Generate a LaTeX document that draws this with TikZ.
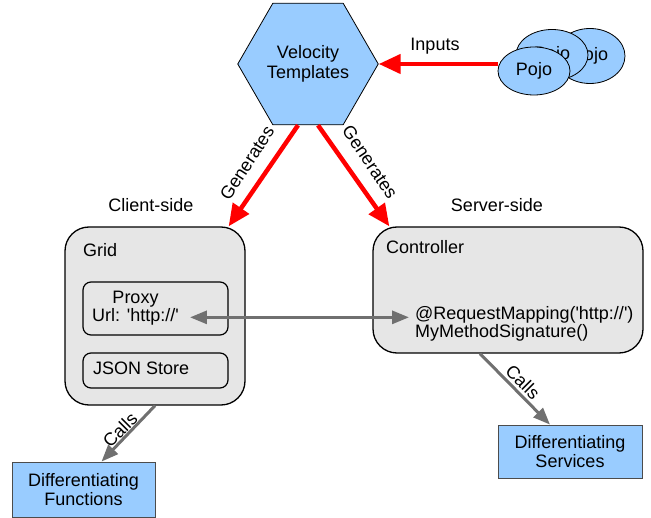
\documentclass[tikz,border=0pt]{standalone}
\usepackage{fontspec}
\setmainfont{Liberation Sans}
\usetikzlibrary{shapes.geometric,arrows.meta}
\definecolor{lblue}{RGB}{153,204,255}
\definecolor{lgray}{RGB}{230,230,230}
\definecolor{dgray}{RGB}{112,112,112}
\begin{document}
\begin{tikzpicture}[x=1pt,y=-1pt,
  txt/.style={font=\fontsize{18}{19.5}\selectfont, inner sep=2pt},
  bigbox/.style={draw=black, line width=1.3pt, fill=lgray, rounded corners=24pt, inner sep=0},
  smallbox/.style={draw=black, line width=1.2pt, fill=lgray, rounded corners=8pt, inner sep=0},
  bluebox/.style={draw=black!70, line width=0.8pt, fill=lblue, inner sep=0, txt, align=center},
  pojo/.style={ellipse, draw=black, line width=0.8pt, fill=lblue, inner sep=0, txt},
  redarrow/.style={draw=red, line width=4.5pt, -{Triangle[length=22pt,width=19pt]}},
  grayarrow/.style={draw=dgray, line width=3pt, -{Triangle[length=17pt,width=13pt]}},
  graydouble/.style={draw=dgray, line width=3pt, {Triangle[length=17pt,width=13pt]}-{Triangle[length=17pt,width=13pt]}}
]
\useasboundingbox (0,0) rectangle (651,518);

% hexagon
\node[regular polygon, regular polygon sides=6, minimum size=127pt, draw=black, line width=0.8pt,
      fill=lblue, inner sep=0, txt, align=center] (hex) at (308,64) {Velocity\\Templates};

% pojos
\node[pojo, minimum width=70pt, minimum height=55pt] (pojo3) at (590,56) {Pojo};
\node[pojo, minimum width=72pt, minimum height=51pt] (pojo2) at (552,55) {Pojo};
\node[pojo, minimum width=72pt, minimum height=48pt] (pojo1) at (534,71) {Pojo};

% big boxes
\node[bigbox, minimum width=180pt, minimum height=178pt] (grid) at (155,316) {};
\node[bigbox, minimum width=270pt, minimum height=126pt] (ctrl) at (508,290) {};
\node[smallbox, minimum width=145pt, minimum height=53pt] (proxybox) at (155.5,308.5) {};
\node[smallbox, minimum width=145pt, minimum height=35pt] (jsonbox) at (155.5,370.5) {};

% texts in boxes
\node[txt, anchor=base west] (gridlbl) at (81,257) {Grid};
\node[txt, anchor=base west] (ctrllbl) at (384,254) {Controller};
\node[txt, anchor=base] (proxylbl) at (135.5,304) {Proxy};
\node[txt, anchor=base] (url) at (135.5,322) {Url: \textquotesingle http://\textquotesingle};
\node[txt, anchor=base west] (json) at (91,375) {JSON Store};
\node[txt, anchor=base west] (req) at (413,320) {@RequestMapping(\textquotesingle http://\textquotesingle)};
\node[txt, anchor=base west] (sig) at (413,338) {MyMethodSignature()};

% side labels
\node[txt] (client) at (151,205) {Client-side};
\node[txt] (server) at (497,205) {Server-side};

% blue boxes
\node[bluebox, minimum width=143pt, minimum height=55pt] (df) at (83.5,489.5) {Differentiating\\Functions};
\node[bluebox, minimum width=144pt, minimum height=53pt] (ds) at (570,451.5) {Differentiating\\Services};

% red arrows
\draw[redarrow] (pojo1.west |- hex.east) -- (hex.east);
\node[txt, anchor=base] (inputs) at (435,51) {Inputs};
\coordinate (g1) at ([xshift=-17pt]grid.north east);
\coordinate (g2) at ([xshift=17pt]ctrl.north west);
\draw[redarrow] ([xshift=-10pt]hex.south) -- (g1);
\draw[redarrow] ([xshift=10pt]hex.south) -- (g2);
\node[txt, rotate=57] (gen1) at (247,163) {Generates};
\node[txt, rotate=-56] (gen2) at (370,162) {Generates};

% gray arrows
\draw[graydouble, shorten <=9pt, shorten >=4pt] (url.east) -- (req.west |- url.east);
\draw[grayarrow] (grid.south) -- ([xshift=18pt]df.north);
\node[txt, rotate=45] (calls1) at (120,430) {Calls};
\draw[grayarrow] ([xshift=-28pt]ctrl.south) -- ([xshift=-20pt]ds.north);
\node[txt, rotate=-45] (calls2) at (523,382) {Calls};
\end{tikzpicture}
\end{document}
